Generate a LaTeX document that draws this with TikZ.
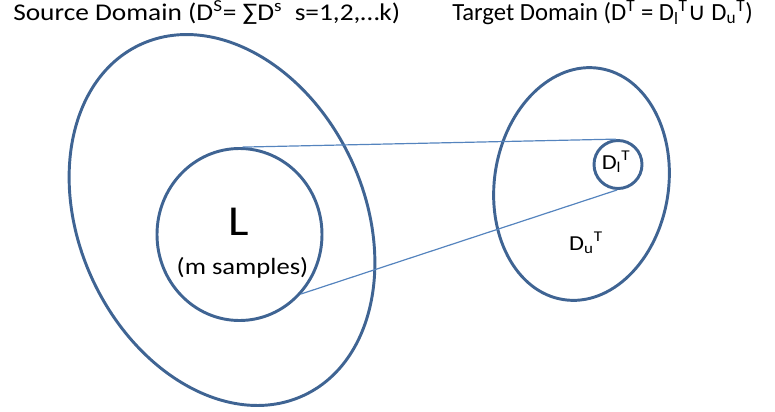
\documentclass[tikz,border=0pt]{standalone}
\usepackage{fontspec}
\setmainfont{Carlito}[FakeStretch=1.14]
\newfontfamily\plainfont{Carlito}
\newfontfamily\symfont{DejaVu Sans}
\usetikzlibrary{shapes.geometric}
\definecolor{ring}{HTML}{3F6493}
\definecolor{link}{HTML}{5584BE}
\tikzset{
  ringline/.style={draw=ring, line width=2.2pt, inner sep=0pt},
  linkline/.style={draw=link, line width=0.9pt},
  title/.style={font=\fontsize{18}{21}\selectfont, anchor=base west, inner sep=0pt},
  label/.style={inner sep=0pt},
}
\begin{document}
\begin{tikzpicture}[x=0.75pt,y=-0.75pt]
\useasboundingbox (0,0) rectangle (775,411);
\node[ringline, ellipse, rotate=25, minimum width=285*0.75pt, minimum height=387*0.75pt] (src) at (222,220) {};
\node[ringline, ellipse, minimum width=165*0.75pt, minimum height=172*0.75pt] (L) at (239.5,234.5) {};
\node[ringline, ellipse, rotate=-9, minimum width=174*0.75pt, minimum height=234*0.75pt] (tgt) at (581.5,184) {};
\node[ringline, circle, minimum size=48*0.75pt] (dl) at (618,164.5) {};
\draw[linkline] (L.88) -- (dl.95);
\draw[linkline] (L.-44) -- (dl.-92);
\node[label, font=\fontsize{32}{36}\selectfont] (Ltext) at (239,221.5) {L};
\node[label, font=\fontsize{17.5}{20}\selectfont] (msamp) at (242.5,268) {(m samples)};
\node[label, font=\fontsize{16}{18}\selectfont] (dltext) at (616,162) {D\textsubscript{l}\textsuperscript{T}};
\node[label, font=\fontsize{16}{18}\selectfont] (dutext) at (586,243) {D\textsubscript{u}\textsuperscript{T}};
\node[title] (srct) at (13,20) {Source Domain (D\textsuperscript{S}= ∑D\textsuperscript{s}\ \ s=1,2,…k)};
\node[title, font=\plainfont\fontsize{18.5}{21}\selectfont] (tgtt) at (452,20) {Target Domain (D\textsuperscript{T} = D\textsubscript{l}\textsuperscript{T}{\symfont ∪} D\textsubscript{u}\textsuperscript{T})};
\end{tikzpicture}
\end{document}
